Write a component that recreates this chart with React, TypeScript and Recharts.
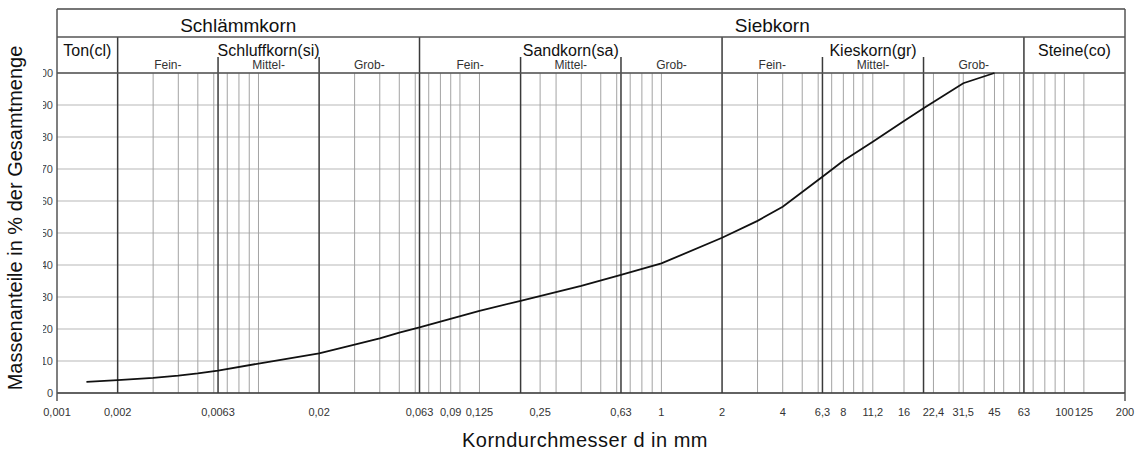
import React from "react";
import {
  LineChart,
  Line,
  XAxis,
  YAxis,
  CartesianGrid,
  ReferenceLine,
  ReferenceArea,
} from "recharts";

// ─── Data ─────────────────────────────────────────────────────────────────────

// grain size d in mm and cumulative passing in %
const grainSize = [
  0.0014, 0.002, 0.003, 0.004, 0.005, 0.0063, 0.01, 0.02, 0.03, 0.04, 0.05,
  0.063, 0.125, 0.2, 0.4, 0.63, 1, 2, 3, 4, 6.3, 8, 11.2, 16, 20, 31.5, 45,
];
const passing = [
  3.5, 4.0, 4.7, 5.4, 6.1, 7.0, 9.2, 12.4, 15.1, 17.1, 18.9,
  20.5, 25.7, 28.8, 33.5, 36.9, 40.5, 48.5, 53.8, 58.2, 67.6, 72.6, 78.5, 85.0, 89.0, 96.8, 100,
];

const xTicks = [
  0.001, 0.002, 0.0063, 0.02, 0.063, 0.09, 0.125, 0.25, 0.63, 1, 2, 4, 6.3, 8,
  11.2, 16, 22.4, 31.5, 45, 63, 100, 125, 200,
];
const yTicks = [0, 10, 20, 30, 40, 50, 60, 70, 80, 90, 100];

// thin sieve lines
const sieveLines = [
  0.003, 0.004, 0.005, 0.006, 0.007, 0.008, 0.009, 0.01, 0.03, 0.04, 0.05, 0.06,
  0.07, 0.08, 0.09, 0.1, 0.125, 0.25, 0.3, 0.4, 0.5, 0.6, 0.7, 0.8, 0.9, 1,
  3, 4, 5, 6, 7, 8, 9, 10, 11.2, 16, 22.4, 30, 31.5, 40, 45, 50, 60, 70, 80, 90, 100, 125,
];
// soil class boundaries (reach into header row 2) and sub boundaries
const classBounds = [0.002, 0.063, 2, 63];
const subBounds = [0.0063, 0.02, 0.2, 0.63, 6.3, 20];

const topGroups = [
  { label: "Schlämmkorn", from: 0.001, to: 0.063 },
  { label: "Siebkorn", from: 0.063, to: 200 },
];
const classGroups = [
  { label: "Ton(cl)", from: 0.001, to: 0.002 },
  { label: "Schluffkorn(si)", from: 0.002, to: 0.063 },
  { label: "Sandkorn(sa)", from: 0.063, to: 2 },
  { label: "Kieskorn(gr)", from: 2, to: 63 },
  { label: "Steine(co)", from: 63, to: 200 },
];
const subGroups = [
  { label: "Fein-", from: 0.002, to: 0.0063 },
  { label: "Mittel-", from: 0.0063, to: 0.02 },
  { label: "Grob-", from: 0.02, to: 0.063 },
  { label: "Fein-", from: 0.063, to: 0.2 },
  { label: "Mittel-", from: 0.2, to: 0.63 },
  { label: "Grob-", from: 0.63, to: 2 },
  { label: "Fein-", from: 2, to: 6.3 },
  { label: "Mittel-", from: 6.3, to: 20 },
  { label: "Grob-", from: 20, to: 63 },
];

// header rows in y units above 100 %
const ROW2_TOP = 111.25;
const SUB_TOP = 105;
const BOX_TOP = 120;

const data = grainSize.map((d, i) => ({ d, p: passing[i] }));

// ─── Helpers ──────────────────────────────────────────────────────────────────

const FONT = "'Liberation Sans', Arial, Helvetica, sans-serif";
const fmt = (v: number) => String(v).replace(".", ",");

const XTick = ({ x, y, payload }: any) => {
  const v = payload.value;
  const isEnd = v === 0.001 || v === 200;
  return (
    <g>
      {isEnd && <line x1={x} x2={x} y1={y - 8} y2={y} stroke="#555" strokeWidth={1.5} />}
      <text x={x} y={y + 14.7} textAnchor="middle" fontSize={11} fill="#333" fontFamily={FONT}>
        {fmt(v)}
      </text>
    </g>
  );
};

const headerLabel = (text: string, size: number, dy: number, color = "#111") => (props: any) => {
  const vb = props.viewBox || {};
  return (
    <text
      x={vb.x + vb.width / 2}
      y={vb.y + dy}
      textAnchor="middle"
      fontSize={size}
      fill={color}
      fontFamily={FONT}
    >
      {text}
    </text>
  );
};

// ─── Component ────────────────────────────────────────────────────────────────

export default function App() {
  const dark = "#3a3a3a";
  const border = "#555";

  return (
    <div style={{ position: "absolute", left: 0, top: 0, width: 1137, height: 454, background: "#fff" }}>
      <LineChart
        width={1137}
        height={454}
        data={data}
        margin={{ top: 9, right: 12, bottom: 0, left: 0 }}
      >
        <CartesianGrid horizontal vertical={false} stroke="#cfcfcf" strokeWidth={1.5} />

        <XAxis
          dataKey="d"
          type="number"
          scale="log"
          domain={[0.001, 200]}
          allowDataOverflow
          ticks={xTicks}
          interval={0}
          height={61}
          tickSize={8}
          tickMargin={0}
          tickLine={false}
          axisLine={{ stroke: dark, strokeWidth: 1.5 }}
          tick={<XTick />}
        />
        <YAxis
          type="number"
          domain={[0, BOX_TOP]}
          ticks={yTicks}
          width={57}
          tickSize={0}
          tickMargin={4}
          tickLine={false}
          axisLine={{ stroke: border, strokeWidth: 1.5 }}
          tick={{ fontSize: 11, fill: "#444", fontFamily: FONT }}
        />

        {sieveLines.map((v) => (
          <ReferenceLine
            key={`s-${v}`}
            segment={[{ x: v, y: 0 }, { x: v, y: 100 }]}
            stroke="#a3a3a3"
            strokeWidth={1}
          />
        ))}
        {subBounds.map((v) => (
          <ReferenceLine
            key={`sb-${v}`}
            segment={[{ x: v, y: 0 }, { x: v, y: SUB_TOP }]}
            stroke={dark}
            strokeWidth={1.5}
          />
        ))}
        {classBounds.map((v) => (
          <ReferenceLine
            key={`cb-${v}`}
            segment={[{ x: v, y: 0 }, { x: v, y: ROW2_TOP }]}
            stroke={dark}
            strokeWidth={1.5}
          />
        ))}

        {/* frame of header and plot */}
        <ReferenceLine x={200} stroke={border} strokeWidth={1.5} />
        <ReferenceLine y={100} stroke={border} strokeWidth={1.5} />
        <ReferenceLine y={ROW2_TOP} stroke={border} strokeWidth={1.5} />
        <ReferenceLine y={BOX_TOP} stroke={border} strokeWidth={1.5} />

        {topGroups.map((g) => (
          <ReferenceArea
            key={`t-${g.label}`}
            x1={g.from}
            x2={g.to}
            y1={ROW2_TOP}
            y2={BOX_TOP}
            fillOpacity={0}
            strokeOpacity={0}
            label={headerLabel(g.label, 19, 23)}
          />
        ))}
        {classGroups.map((g) => (
          <ReferenceArea
            key={`c-${g.label}`}
            x1={g.from}
            x2={g.to}
            y1={100}
            y2={ROW2_TOP}
            fillOpacity={0}
            strokeOpacity={0}
            label={headerLabel(g.label, 16, 19)}
          />
        ))}
        {subGroups.map((g, i) => (
          <ReferenceArea
            key={`sub-${i}`}
            x1={g.from}
            x2={g.to}
            y1={100}
            y2={SUB_TOP}
            fillOpacity={0}
            strokeOpacity={0}
            label={headerLabel(g.label, 12, 12, "#333")}
          />
        ))}

        <Line
          type="linear"
          dataKey="p"
          stroke="#111"
          strokeWidth={1.8}
          dot={false}
          isAnimationActive={false}
        />
      </LineChart>

      {/* axis titles; white strip hides the leading digits of the y ticks as in the source */}
      <svg
        width={1137}
        height={454}
        style={{ position: "absolute", left: 0, top: 0, pointerEvents: "none" }}
      >
        <rect x={0} y={60} width={43} height={345} fill="#fff" />
        <text
          transform="translate(22, 218) rotate(-90)"
          textAnchor="middle"
          fontSize={20}
          fill="#111"
          fontFamily={FONT}
        >
          Massenanteile in % der Gesamtmenge
        </text>
        <text
          x={585}
          y={447}
          textAnchor="middle"
          fontSize={20}
          letterSpacing={0.5}
          fill="#111"
          fontFamily={FONT}
        >
          Korndurchmesser d in mm
        </text>
      </svg>
    </div>
  );
}
